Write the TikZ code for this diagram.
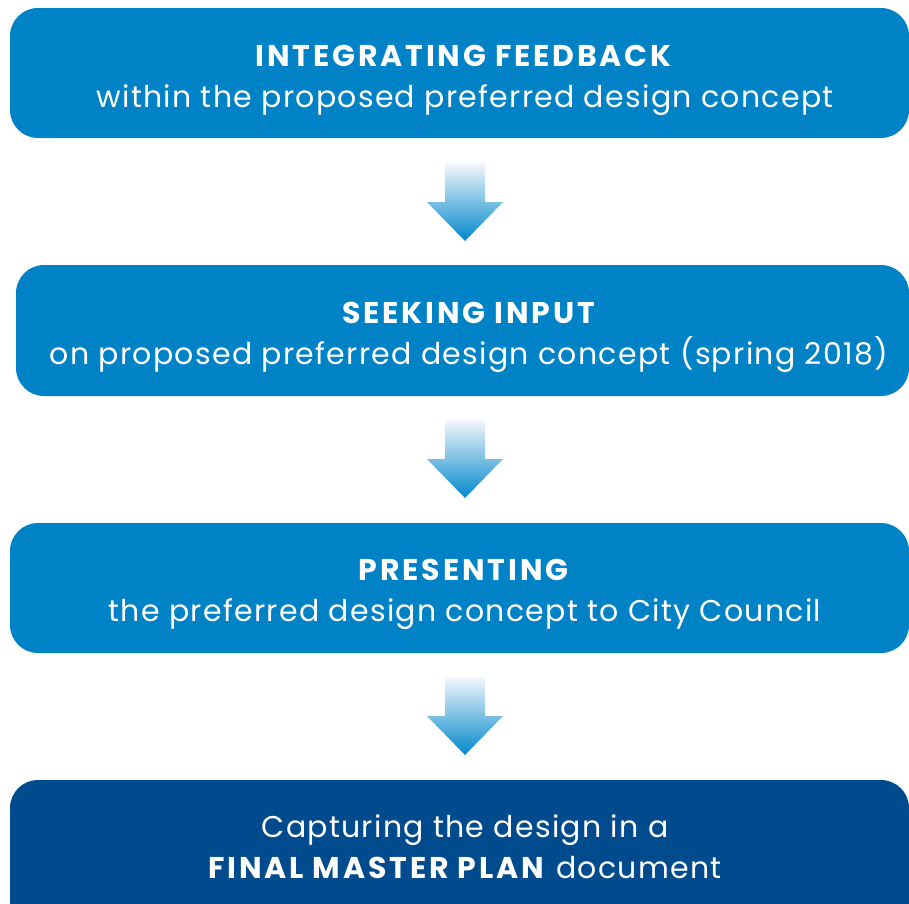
\documentclass[tikz,border=0pt]{standalone}
\usepackage{fontspec}
\setmainfont{Poppins}[LetterSpace=4.3,BoldFeatures={LetterSpace=9.5}]
\begin{document}
\begin{tikzpicture}[x=1pt,y=-1pt,
  box/.style={fill=boxblue,rounded corners=28pt},
  darkbox/.style={fill=boxdark,rounded corners=28pt},
  txt/.style={anchor=base,text=white,inner sep=0pt,font=\fontsize{30}{36}\selectfont},
  arrowshade/.style={top color=arrtop,bottom color=arrbot}]
\definecolor{boxblue}{HTML}{0082C6}
\definecolor{boxdark}{HTML}{004B8D}
\definecolor{arrtop}{HTML}{F4F7FC}
\definecolor{arrbot}{HTML}{0088CC}
\useasboundingbox (0,0) rectangle (909,903);
\begin{scope}
\clip (0,0) rectangle (909,903);
\fill[box] (10,8) rectangle (909,138);
\fill[box] (16,265) rectangle (909,396);
\fill[box] (10,523) rectangle (909,653);
\fill[darkbox] (10,780) rectangle (909,935);
\end{scope}
\node[txt] (t1a) at (465,66) {\textbf{INTEGRATING FEEDBACK}};
\node[txt] (t1b) at (465,107) {within the proposed preferred design concept};
\node[txt] (t2a) at (470,323) {\textbf{SEEKING INPUT}};
\node[txt] (t2b) at (469,364) {on proposed preferred design concept (spring 2018)};
\node[txt] (t3a) at (465,580) {\textbf{PRESENTING}};
\node[txt] (t3b) at (465,621) {the preferred design concept to City Council};
\node[txt] (t4a) at (465,837) {Capturing the design in a};
\node[txt] (t4b) at (465,878) {\textbf{FINAL MASTER PLAN} document};
\foreach \i/\dy in {1/0,2/257,3/514}{
  \shade[arrowshade] (445,163+\dy) -- (485,163+\dy) -- (485,202+\dy) -- (503,202+\dy)
    -- (465,241+\dy) -- (427,202+\dy) -- (445,202+\dy) -- cycle;
}
\end{tikzpicture}
\end{document}
